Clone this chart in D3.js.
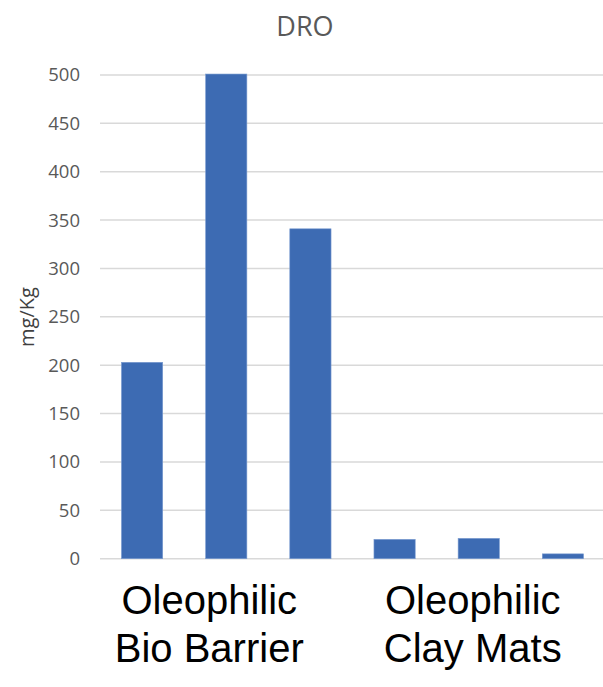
<!DOCTYPE html>
<html><head><meta charset="utf-8">
<script src="https://cdn.jsdelivr.net/npm/d3@7"></script>
<style>body{margin:0;background:#fff}</style>
</head><body>
<svg id="c" width="603" height="687"></svg>
<script>
const categories = ["B1","B2","B3","C1","C2","C3"];
const values = [203, 501, 341, 20, 21, 5];
const yTicks = [0,50,100,150,200,250,300,350,400,450,500];
const groups = [["Oleophilic","Bio Barrier"],["Oleophilic","Clay Mats"]];
const groupMembers = [["B1","B2","B3"],["C1","C2","C3"]];
const title = "DRO";
const yLabel = "mg/Kg";

const svg = d3.select("#c");
const x = d3.scaleBand().domain(categories).range([100, 605]).paddingInner(0.51).paddingOuter(0.255);
const y = d3.scaleLinear().domain([0, 500]).range([558.7, 75]);

// gridlines
svg.append("g").selectAll("line").data(yTicks).join("line")
  .attr("x1", 100).attr("x2", 603)
  .attr("y1", d => y(d)).attr("y2", d => y(d))
  .attr("stroke", "#d9d9d9").attr("stroke-width", 1.5);

// y axis labels
const ya = svg.append("g").attr("transform","translate(80,0)")
  .call(d3.axisLeft(y).tickValues(yTicks).tickSize(0).tickPadding(0));
ya.select(".domain").remove();
ya.selectAll("text").attr("font-family","Open Sans").attr("font-size",18.5).attr("fill","#595959");

// bars
svg.append("g").selectAll("rect").data(values).join("rect")
  .attr("x",(d,i)=>x(categories[i])).attr("width",x.bandwidth())
  .attr("y",d=>y(d)).attr("height",d=>y(0)-y(d))
  .attr("fill","#3d6bb3").attr("stroke","#7a9bd0").attr("stroke-width",0.6);

// title
svg.append("text").attr("x",305).attr("y",36).attr("text-anchor","middle")
  .attr("font-family","Open Sans").attr("font-size",27).attr("fill","#595959").text(title);

// y label
svg.append("text").attr("transform","translate(34,317) rotate(-90)").attr("text-anchor","middle")
  .attr("font-family","Open Sans").attr("font-size",20).attr("fill","#404040").text(yLabel);

// group labels
const offsets = [-17, -6];
groups.forEach((g,gi)=>{
  const mem = groupMembers[gi];
  const cx = (x(mem[0]) + x(mem[mem.length-1]) + x.bandwidth())/2 + offsets[gi];
  const t = svg.append("text").attr("text-anchor","middle")
    .attr("font-family","Liberation Sans, Arial").attr("font-size",40).attr("fill","#000");
  g.forEach((line,li)=>{
    t.append("tspan").attr("x",cx).attr("y",614+li*48).text(line);
  });
});
</script>
</body></html>
